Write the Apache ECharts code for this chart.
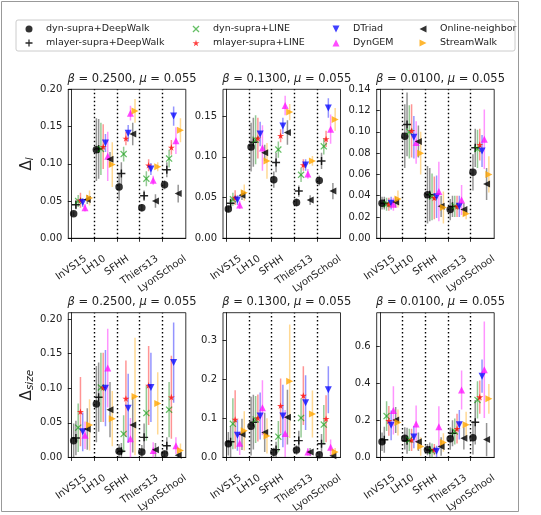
<!DOCTYPE html>
<html><head><meta charset="utf-8">
<script src="https://cdn.jsdelivr.net/npm/echarts@6/dist/echarts.min.js"></script>
<style>html,body{margin:0;padding:0;background:#fff}#c{width:541px;height:515px}</style>
</head><body><div id="c"></div>
<script>
// ---------------- data ----------------
const categories = ['InVS15','LH10','SFHH','Thiers13','LyonSchool'];
const methods = ['dyn-supra+DeepWalk','mlayer-supra+DeepWalk','dyn-supra+LINE','mlayer-supra+LINE','DTriad','DynGEM','Online-neighbor','StreamWalk'];
const betas = ['0.2500','0.1300','0.0100'];
const mu = '0.055';

// rows = methods (order above), cols = categories
// Delta_l, beta = 0.25
const dl_b25 = [
 [0.033,0.119,0.069,0.041,0.072],
 [0.045,0.120,0.087,0.057,0.092],
 [0.050,0.120,0.113,0.080,0.107],
 [0.051,0.123,0.134,0.098,0.122],
 [0.048,0.128,0.141,0.093,0.164],
 [0.041,0.110,0.168,0.078,0.131],
 [0.052,0.106,0.140,0.050,0.060],
 [0.054,0.099,0.171,0.096,0.145]];
const dl_b25_err = [
 [0.003,0.042,0.018,0.005,0.006],
 [0.006,0.040,0.015,0.007,0.010],
 [0.008,0.035,0.010,0.010,0.012],
 [0.010,0.030,0.009,0.008,0.010],
 [0.006,0.012,0.011,0.008,0.013],
 [0.005,0.033,0.010,0.006,0.018],
 [0.006,0.010,0.015,0.009,0.012],
 [0.010,0.030,0.016,0.006,0.016]];
// Delta_l, beta = 0.13
const dl_b13 = [
 [0.036,0.112,0.072,0.044,0.071],
 [0.043,0.118,0.093,0.058,0.095],
 [0.048,0.121,0.109,0.078,0.113],
 [0.050,0.123,0.126,0.090,0.122],
 [0.047,0.128,0.138,0.090,0.160],
 [0.041,0.111,0.163,0.079,0.134],
 [0.053,0.105,0.130,0.047,0.058],
 [0.056,0.095,0.155,0.095,0.146]];
const dl_b13_err = [
 [0.004,0.030,0.010,0.005,0.006],
 [0.006,0.030,0.012,0.007,0.010],
 [0.008,0.030,0.010,0.009,0.010],
 [0.009,0.025,0.008,0.007,0.010],
 [0.006,0.015,0.010,0.007,0.012],
 [0.005,0.028,0.012,0.006,0.018],
 [0.006,0.010,0.015,0.006,0.010],
 [0.010,0.022,0.010,0.006,0.014]];
// Delta_l, beta = 0.01
const dl_b01 = [
 [0.033,0.096,0.041,0.027,0.062],
 [0.033,0.107,0.041,0.030,0.085],
 [0.032,0.100,0.039,0.030,0.084],
 [0.032,0.101,0.038,0.030,0.088],
 [0.033,0.095,0.039,0.030,0.082],
 [0.032,0.090,0.044,0.036,0.093],
 [0.034,0.091,0.030,0.027,0.051],
 [0.037,0.080,0.029,0.023,0.060]];
const dl_b01_err = [
 [0.006,0.030,0.027,0.010,0.017],
 [0.006,0.030,0.025,0.010,0.018],
 [0.006,0.025,0.022,0.010,0.018],
 [0.006,0.025,0.020,0.010,0.015],
 [0.006,0.020,0.020,0.010,0.015],
 [0.006,0.020,0.028,0.014,0.028],
 [0.005,0.015,0.010,0.006,0.015],
 [0.008,0.020,0.015,0.005,0.017]];
// Delta_size, beta = 0.25
const ds_b25 = [
 [0.024,0.077,0.009,0.008,0.005],
 [0.028,0.087,0.009,0.029,0.017],
 [0.043,0.101,0.034,0.064,0.069],
 [0.066,0.101,0.085,0.104,0.087],
 [0.037,0.100,0.071,0.101,0.137],
 [0.032,0.129,0.027,0.010,0.017],
 [0.041,0.069,0.047,0.011,0.003],
 [0.047,0.056,0.088,0.078,0.010]];
const ds_b25_err = [
 [0.025,0.055,0.010,0.010,0.005],
 [0.025,0.050,0.012,0.020,0.012],
 [0.035,0.050,0.027,0.040,0.040],
 [0.050,0.050,0.055,0.057,0.060],
 [0.028,0.055,0.050,0.050,0.058],
 [0.020,0.057,0.030,0.012,0.012],
 [0.030,0.040,0.040,0.010,0.004],
 [0.037,0.040,0.085,0.045,0.010]];
// Delta_size, beta = 0.13
const ds_b13 = [
 [0.035,0.080,0.013,0.019,0.007],
 [0.040,0.090,0.020,0.043,0.035],
 [0.086,0.097,0.053,0.101,0.084],
 [0.097,0.101,0.132,0.158,0.099],
 [0.057,0.106,0.106,0.140,0.173],
 [0.036,0.127,0.061,0.014,0.026],
 [0.059,0.064,0.103,0.014,0.004],
 [0.068,0.055,0.195,0.111,0.014]];
const ds_b13_err = [
 [0.030,0.075,0.012,0.012,0.006],
 [0.040,0.070,0.020,0.025,0.025],
 [0.065,0.060,0.040,0.050,0.050],
 [0.075,0.060,0.070,0.075,0.060],
 [0.040,0.060,0.080,0.070,0.060],
 [0.030,0.070,0.060,0.010,0.020],
 [0.040,0.050,0.070,0.010,0.004],
 [0.050,0.045,0.145,0.060,0.010]];
// Delta_size, beta = 0.01
const ds_b01 = [
 [0.084,0.103,0.042,0.101,0.106],
 [0.095,0.090,0.040,0.130,0.190],
 [0.223,0.095,0.035,0.140,0.310],
 [0.197,0.094,0.042,0.155,0.325],
 [0.173,0.110,0.033,0.176,0.438],
 [0.253,0.180,0.166,0.363,0.473],
 [0.202,0.084,0.059,0.103,0.096],
 [0.188,0.059,0.080,0.176,0.316]];
const ds_b01_err = [
 [0.050,0.060,0.030,0.060,0.090],
 [0.070,0.070,0.040,0.070,0.120],
 [0.080,0.060,0.040,0.070,0.100],
 [0.080,0.060,0.030,0.080,0.090],
 [0.080,0.060,0.030,0.080,0.090],
 [0.130,0.100,0.110,0.105,0.260],
 [0.070,0.050,0.050,0.060,0.090],
 [0.070,0.050,0.050,0.070,0.080]];

const yTicks_dl_b25 = [0,0.05,0.10,0.15,0.20];
const yTicks_dl_b13 = [0,0.05,0.10,0.15];
const yTicks_dl_b01 = [0,0.02,0.04,0.06,0.08,0.10,0.12,0.14];
const yTicks_ds_b25 = [0,0.05,0.10,0.15,0.20];
const yTicks_ds_b13 = [0,0.1,0.2,0.3];
const yTicks_ds_b01 = [0,0.2,0.4,0.6];

// ---------------- layout / style ----------------
const FONT = 'DejaVu Sans';
const TXT = '#222';
const panels = [
 {vals:dl_b25, errs:dl_b25_err, ticks:yTicks_dl_b25, max:0.20,  dec:2, beta:betas[0]},
 {vals:dl_b13, errs:dl_b13_err, ticks:yTicks_dl_b13, max:0.183, dec:2, beta:betas[1]},
 {vals:dl_b01, errs:dl_b01_err, ticks:yTicks_dl_b01, max:0.14,  dec:2, beta:betas[2]},
 {vals:ds_b25, errs:ds_b25_err, ticks:yTicks_ds_b25, max:0.209, dec:2, beta:betas[0]},
 {vals:ds_b13, errs:ds_b13_err, ticks:yTicks_ds_b13, max:0.37,  dec:1, beta:betas[1]},
 {vals:ds_b01, errs:ds_b01_err, ticks:yTicks_ds_b01, max:0.78,  dec:1, beta:betas[2]}
];
const gridLefts = [68.3, 223, 376.7];
const gridW = 117.5;
const rowTops = [89.3, 312.7];
const rowH = [149, 149.8];

const CIRCLE = 'path://M5,0A5,5,0,1,1,5,10A5,5,0,1,1,5,0Z';
const PLUS = 'path://M4.1,0H5.9V4.1H10V5.9H5.9V10H4.1V5.9H0V4.1H4.1Z';
const XMARK = 'path://M1.3,0L5,3.7L8.7,0L10,1.3L6.3,5L10,8.7L8.7,10L5,6.3L1.3,10L0,8.7L3.7,5L0,1.3Z';
const STAR = 'path://M50,0L61,35L98,35L68,57L79,91L50,70L21,91L32,57L2,35L39,35Z';
const TRI_DOWN = 'path://M0,0L10,0L5,10Z';
const TRI_UP = 'path://M5,0L10,10L0,10Z';
const TRI_LEFT = 'path://M0,5L10,0L10,10Z';
const TRI_RIGHT = 'path://M0,0L10,5L0,10Z';
const mStyle = [
 {symbol:CIRCLE,    size:7.5, color:'rgba(0,0,0,0.8)',     bar:'rgba(0,0,0,0.42)'},
 {symbol:PLUS,      size:8,   color:'rgba(0,0,0,0.85)',    bar:'rgba(0,0,0,0.42)'},
 {symbol:XMARK,     size:7,   color:'rgba(0,150,0,0.6)',   bar:'rgba(0,128,0,0.42)'},
 {symbol:STAR,      size:7,   color:'rgba(255,0,0,0.75)',  bar:'rgba(255,0,0,0.42)'},
 {symbol:TRI_DOWN,  size:7,   color:'rgba(0,0,255,0.75)',  bar:'rgba(0,0,255,0.42)'},
 {symbol:TRI_UP,    size:7,   color:'rgba(255,0,255,0.7)', bar:'rgba(255,0,255,0.42)'},
 {symbol:TRI_LEFT,  size:7,   color:'rgba(0,0,0,0.8)',     bar:'rgba(0,0,0,0.42)'},
 {symbol:TRI_RIGHT, size:7,   color:'rgba(255,165,0,0.8)', bar:'rgba(255,165,0,0.42)'}
];

// rotated x labels: center each label under its tick (like matplotlib ha=center)
const THETA = 35 * Math.PI / 180;
const mctx = document.createElement('canvas').getContext('2d');
mctx.font = '10px "DejaVu Sans"';
const xRich = {};
categories.forEach((c, i) => {
  const w = mctx.measureText(c).width;
  const s = Math.sin(THETA), co = Math.cos(THETA);
  xRich['c' + i] = {fontSize:10, fontFamily:FONT, color:TXT, padding:[w*s*co, w*s*s, 0, 0]};
});
const catIdx = categories.map((c, i) => i);

const grids = [], xAxes = [], yAxes = [], series = [], titles = [];
panels.forEach((p, pi) => {
  const row = Math.floor(pi / 3), col = pi % 3;
  grids.push({left:gridLefts[col], top:rowTops[row], width:gridW, height:rowH[row],
    show:true, borderColor:'#000', borderWidth:0.8, backgroundColor:'transparent'});
  xAxes.push({type:'value', gridIndex:pi, min:-0.135, max:5.035,
    axisLine:{show:true, onZero:false, lineStyle:{color:'#000', width:0.8}},
    axisTick:{show:true, customValues:catIdx, length:3.5, lineStyle:{color:'#000', width:0.8}},
    axisLabel:{show:true, customValues:catIdx, rotate:35, align:'center', verticalAlign:'middle',
      margin:19.5, formatter:(v) => '{c' + Math.round(v) + '|' + categories[Math.round(v)] + '}', rich:xRich},
    splitLine:{show:false}});
  const yax = {type:'value', gridIndex:pi, min:0, max:p.max,
    axisLine:{show:true, lineStyle:{color:'#000', width:0.8}},
    axisTick:{show:true, customValues:p.ticks, length:3.5, lineStyle:{color:'#000', width:0.8}},
    axisLabel:{show:true, customValues:p.ticks, margin:6, fontSize:10, fontFamily:FONT, color:TXT,
      formatter:(v) => v.toFixed(p.dec)},
    splitLine:{show:false}};
  if (pi === 0 || pi === 3) {
    yax.name = pi === 0 ? '{d|Δ}{s|l}' : '{d|Δ}{s|size}';
    yax.nameLocation = 'middle';
    yax.nameRotate = 90;
    yax.nameGap = 26;
    yax.nameTextStyle = {color:TXT, rich:{
      d:{fontSize:15, fontFamily:FONT, color:TXT, lineHeight:18},
      s:{fontSize:10.5, fontFamily:FONT, fontStyle:'italic', color:TXT, lineHeight:11, verticalAlign:'bottom'}}};
  }
  yAxes.push(yax);
  titles.push({text:'{i|β} = ' + p.beta + ', {i|μ} = ' + mu,
    left:gridLefts[col] + gridW/2, top:rowTops[row] - 21.5, textAlign:'center',
    textStyle:{fontSize:11.5, fontWeight:'normal', fontFamily:FONT, color:TXT,
      rich:{i:{fontSize:11.5, fontStyle:'italic', fontFamily:FONT, color:TXT}}}});

  methods.forEach((m, k) => {
    const st = mStyle[k];
    const off = (k + 1) * 0.1;
    const errData = categories.map((c, g) => [g + off, p.vals[k][g] - p.errs[k][g], p.vals[k][g] + p.errs[k][g]]);
    const eser = {type:'custom', name:m + ' (error)', xAxisIndex:pi, yAxisIndex:pi, clip:true, silent:true,
      encode:{x:0, y:[1,2]}, data:errData,
      renderItem:(params, api) => {
        const a = api.coord([api.value(0), api.value(1)]);
        const b = api.coord([api.value(0), api.value(2)]);
        return {type:'line', shape:{x1:a[0], y1:a[1], x2:b[0], y2:b[1]},
          style:{stroke:st.bar, lineWidth:1.5}};
      }};
    if (k === 0) {
      eser.markLine = {silent:true, symbol:'none', label:{show:false}, animation:false,
        lineStyle:{type:[1.5,2.5], color:'#000', width:1.4},
        data:[1,2,3,4].map(x => ({xAxis:x}))};
    }
    series.push(eser);
    series.push({type:'scatter', name:m, xAxisIndex:pi, yAxisIndex:pi, silent:true,
      symbol:st.symbol, symbolSize:st.size, symbolKeepAspect:true,
      itemStyle:{color:st.color, opacity:1},
      data:categories.map((c, g) => [g + off, p.vals[k][g]])});
  });
});

// legend: 4 columns x 2 rows (column-major like matplotlib ncol=4)
const legendCols = [[0,1],[2,3],[4,5],[6,7]];
const legendIconX = [29, 196, 336, 423];
const legends = legendCols.map((ids, i) => ({
  orient:'vertical', left:legendIconX[i] - 3.5, top:24, padding:0, itemWidth:7, itemHeight:7, itemGap:4,
  symbolKeepAspect:true, selectedMode:false,
  data:ids.map(id => ({name:methods[id], icon:mStyle[id].symbol, itemStyle:{color:mStyle[id].color}})),
  textStyle:{fontSize:9.5, fontFamily:FONT, color:TXT, padding:[0,0,0,8.5]}
}));

const chart = echarts.init(document.getElementById('c'));
chart.setOption({
  animation:false,
  backgroundColor:'#fff',
  textStyle:{fontFamily:FONT},
  title:titles,
  legend:legends,
  grid:grids, xAxis:xAxes, yAxis:yAxes, series:series,
  graphic:[
    {type:'rect', z:-10, shape:{x:1.5, y:1.5, width:517, height:510}, style:{fill:'none', stroke:'#999', lineWidth:1}},
    {type:'rect', z:-5, shape:{x:16, y:20, width:499, height:31, r:2}, style:{fill:'#fff', stroke:'#ccc', lineWidth:1}}
  ]
});
</script>
</body></html>
